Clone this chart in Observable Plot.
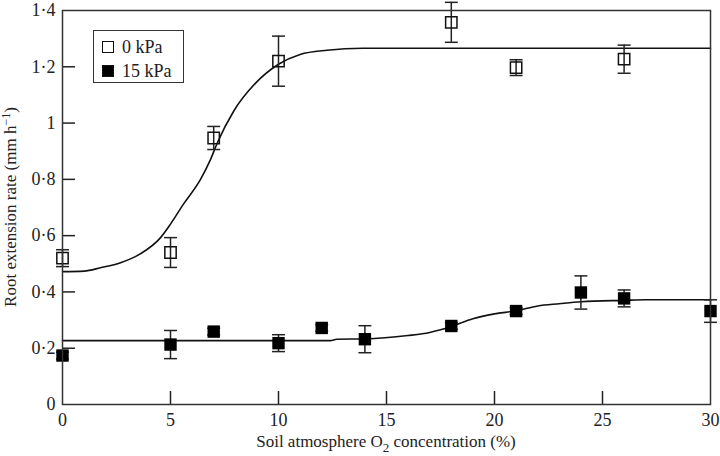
<!DOCTYPE html>
<html><head><meta charset="utf-8">
<script src="https://cdn.jsdelivr.net/npm/d3@7"></script>
<script src="https://cdn.jsdelivr.net/npm/@observablehq/plot@0.6"></script>
<style>
body{margin:0;background:#fff;}
#wrap{position:relative;width:720px;height:456px;}
.legend{position:absolute;left:93px;top:30px;width:89px;height:51px;border:1.5px solid #333;font-family:"Liberation Serif",serif;font-size:18px;color:#222;background:#fff;}
.legend .row{position:absolute;left:8px;height:14px;display:flex;align-items:center;}
.legend .sym{width:10px;height:10px;border:1.5px solid #111;box-sizing:content-box;}
.legend .lbl{margin-left:8px;line-height:14px;}
</style></head>
<body><div id="wrap"></div>
<script>
// 0 kPa series (open squares)
const o2_0 = [0, 5, 7, 10, 18, 21, 26];
const rate_0 = [0.52, 0.54, 0.947, 1.22, 1.358, 1.197, 1.227];
const err_0 = [0.03, 0.053, 0.041, 0.089, 0.071, 0.028, 0.05];
// 15 kPa series (filled squares)
const o2_15 = [0, 5, 7, 10, 12, 14, 18, 21, 24, 26, 30];
const rate_15 = [0.174, 0.213, 0.259, 0.218, 0.272, 0.232, 0.279, 0.332, 0.398, 0.377, 0.332];
const err_15 = [0.012, 0.05, 0.012, 0.03, 0.012, 0.048, 0.012, 0.012, 0.059, 0.03, 0.04];
// fitted curves
const fitX_0 = [0, 1, 1.76, 2.69, 3.6, 4.54, 5, 5.6, 6.39, 6.85, 7.17, 7.93, 8.94, 10, 11, 12.25, 13.9, 30];
const fitY_0 = [0.472, 0.474, 0.486, 0.504, 0.535, 0.593, 0.641, 0.712, 0.80, 0.87, 0.93, 1.043, 1.142, 1.209, 1.244, 1.259, 1.266, 1.266];
const fitX_15 = [0, 12.4, 12.7, 14, 16, 17, 18, 19, 20, 21, 22, 23, 24, 26, 27, 30];
const fitY_15 = [0.227, 0.227, 0.232, 0.233, 0.245, 0.256, 0.277, 0.305, 0.322, 0.333, 0.35, 0.358, 0.365, 0.37, 0.372, 0.372];
// ticks
const xTicks = [0, 5, 10, 15, 20, 25, 30];
const yTicks = [0, 0.2, 0.4, 0.6, 0.8, 1, 1.2, 1.4];
const legendLabels = ["0 kPa", "15 kPa"];

const pts0 = o2_0.map((x, i) => ({x, y: rate_0[i], e: err_0[i]}));
const pts15 = o2_15.map((x, i) => ({x, y: rate_15[i], e: err_15[i]}));
const fit0 = fitX_0.map((x, i) => ({x, y: fitY_0[i]}));
const fit15 = fitX_15.map((x, i) => ({x, y: fitY_15[i]}));

const W = 720, H = 456, mL = 62, mR = 10, mT = 10, mB = 52;
const pw = W - mL - mR, ph = H - mT - mB, tk = 13;
const capSym = {draw(ctx, size) { const w = Math.sqrt(size); ctx.moveTo(-w / 2, 0); ctx.lineTo(w / 2, 0); }};
const fmt = d => String(d).replace(".", "\u00b7");
const ink = "#222";

const bars = (data) => [
  Plot.ruleX(data, {x: "x", y1: d => d.y - d.e, y2: d => d.y + d.e, stroke: ink, strokeWidth: 1.5}),
  Plot.dot(data, {x: "x", y: d => d.y + d.e, symbol: capSym, r: 7.3, stroke: ink, strokeWidth: 1.5, fill: "none"}),
  Plot.dot(data, {x: "x", y: d => d.y - d.e, symbol: capSym, r: 7.3, stroke: ink, strokeWidth: 1.5, fill: "none"})
];

const chart = Plot.plot({
  width: W, height: H,
  marginLeft: mL, marginRight: mR, marginTop: mT, marginBottom: mB,
  style: {fontFamily: "'Liberation Serif', serif", fontSize: "18px", color: ink, background: "#fff", overflow: "visible"},
  x: {domain: [0, 30]},
  y: {domain: [0, 1.4]},
  marks: [
    Plot.axisX(xTicks, {tickSize: 0, tickPadding: 9, tickFormat: fmt, label: null, fontSize: 18}),
    Plot.axisY(yTicks, {tickSize: 0, tickPadding: 7, tickFormat: fmt, label: null, fontSize: 18}),
    Plot.tickX(xTicks.slice(1, -1), {x: d => d, insetTop: ph - tk, stroke: ink, strokeWidth: 1.5}),
    Plot.tickY(yTicks.slice(1, -1), {y: d => d, insetRight: pw - tk, stroke: ink, strokeWidth: 1.5}),
    Plot.line(fit0, {x: "x", y: "y", curve: "monotone-x", stroke: "#111", strokeWidth: 1.6}),
    Plot.line(fit15, {x: "x", y: "y", curve: "monotone-x", stroke: "#111", strokeWidth: 1.6}),
    ...bars(pts0),
    ...bars(pts15),
    Plot.dot(pts0, {x: "x", y: "y", symbol: "square", r: 6.4, fill: "none", stroke: "#111", strokeWidth: 1.5}),
    Plot.dot(pts15, {x: "x", y: "y", symbol: "square", r: 7, fill: "#000", stroke: "none"}),
    Plot.frame({stroke: "#333", strokeWidth: 1.5})
  ]
});

const wrap = document.getElementById("wrap");
wrap.appendChild(chart);

// axis titles with sub/superscripts
const svg = d3.select(chart);
const xl = svg.append("text").attr("x", mL + pw / 2).attr("y", 447).attr("text-anchor", "middle")
  .attr("font-family", "'Liberation Serif', serif").attr("font-size", 17).attr("fill", ink);
xl.append("tspan").text("Soil atmosphere O");
xl.append("tspan").attr("dy", 5).attr("font-size", 13).text("2");
xl.append("tspan").attr("dy", -5).text(" concentration (%)");

const yl = svg.append("text").attr("transform", `translate(16,${mT + ph / 2}) rotate(-90)`).attr("text-anchor", "middle")
  .attr("font-family", "'Liberation Serif', serif").attr("font-size", 17).attr("fill", ink);
yl.append("tspan").text("Root extension rate (mm h");
yl.append("tspan").attr("dy", -6).attr("font-size", 12).text("\u22121");
yl.append("tspan").attr("dy", 6).text(")");

// legend
const lg = document.createElement("div");
lg.className = "legend";
legendLabels.forEach((t, i) => {
  const row = document.createElement("div");
  row.className = "row";
  row.style.top = (i === 0 ? 9 : 33) + "px";
  const s = document.createElement("div");
  s.className = "sym";
  if (i === 1) s.style.background = "#000";
  const l = document.createElement("span");
  l.className = "lbl";
  l.textContent = t;
  row.appendChild(s); row.appendChild(l);
  lg.appendChild(row);
});
wrap.appendChild(lg);
</script>
</body></html>
